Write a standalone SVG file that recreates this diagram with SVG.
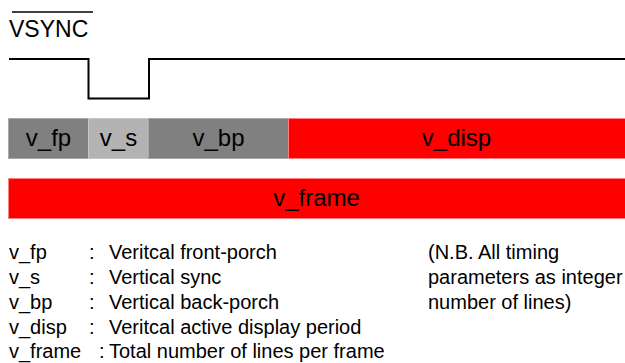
<svg xmlns="http://www.w3.org/2000/svg" width="625" height="363" viewBox="0 0 625 363">
<style>
text{font-family:"Liberation Sans",Arial,sans-serif;fill:#000}
.bar{font-size:24px;text-anchor:middle}
.lg{font-size:20px}
.dk{fill:#808080;stroke:#a8a8a8;stroke-width:1}
.lt{fill:#b3b3b3;stroke:#c8c8c8;stroke-width:1}
.rd{fill:#ff0000;stroke:#ff8080;stroke-width:1}
</style>
<g id="vsync-label">
<line x1="12" y1="12" x2="93" y2="12" stroke="#000" stroke-width="1.5"/>
<text x="9" y="37" font-size="23">VSYNC</text>
</g>
<g id="connectors">
<polyline points="9,59 88.5,59 88.5,98.5 149,98.5 149,59 625,59" fill="none" stroke="#000" stroke-width="2"/>
</g>
<g id="v_fp"><rect class="dk" x="8.5" y="118.5" width="80" height="40"/><text class="bar" x="48.5" y="146">v_fp</text></g>
<g id="v_s"><rect class="lt" x="88.5" y="118.5" width="60" height="40"/><text class="bar" x="118.5" y="146">v_s</text></g>
<g id="v_bp"><rect class="dk" x="148.5" y="118.5" width="140" height="40"/><text class="bar" x="218.5" y="146">v_bp</text></g>
<g id="v_disp"><rect class="rd" x="288.5" y="118.5" width="340" height="40"/><text class="bar" x="456.5" y="146">v_disp</text></g>
<g id="v_frame"><rect class="rd" x="8.5" y="178.5" width="620" height="40"/><text class="bar" x="316.5" y="206">v_frame</text></g>
<g id="legend">
<text class="lg" x="9" y="259">v_fp</text><text class="lg" x="89" y="259">:</text><text class="lg" x="109" y="259">Veritcal front-porch</text>
<text class="lg" x="9" y="284">v_s</text><text class="lg" x="89" y="284">:</text><text class="lg" x="109" y="284">Vertical sync</text>
<text class="lg" x="9" y="309">v_bp</text><text class="lg" x="89" y="309">:</text><text class="lg" x="109" y="309">Vertical back-porch</text>
<text class="lg" x="9" y="334">v_disp</text><text class="lg" x="89" y="334">:</text><text class="lg" x="109" y="334">Veritcal active display period</text>
<text class="lg" x="9" y="358">v_frame</text><text class="lg" x="99" y="358">:</text><text class="lg" x="109" y="358">Total number of lines per frame</text>
</g>
<g id="note">
<text class="lg" x="428" y="259">(N.B. All timing</text>
<text class="lg" x="428" y="284">parameters as integer</text>
<text class="lg" x="428" y="309">number of lines)</text>
</g>
</svg>
